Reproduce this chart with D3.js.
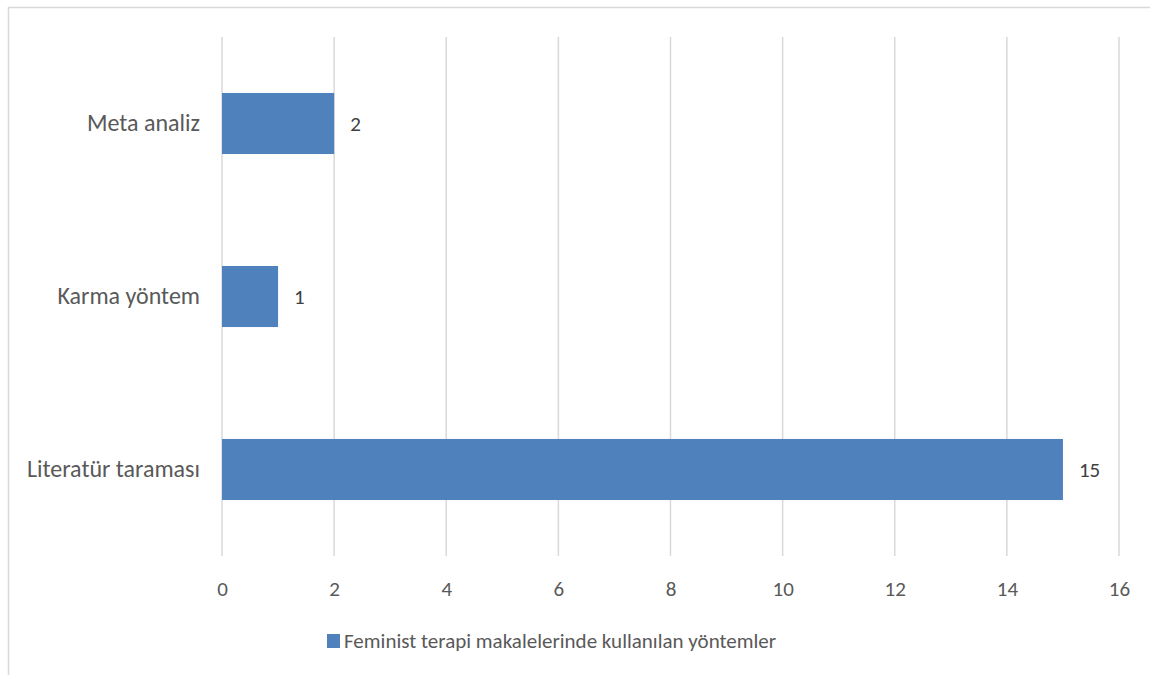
<!DOCTYPE html>
<html>
<head>
<meta charset="utf-8">
<script src="https://cdn.jsdelivr.net/npm/d3@7"></script>
<style>
  body { margin: 0; background: #fff; }
  svg { display: block; font-family: Calibri, Carlito, Lato, sans-serif; }
</style>
</head>
<body>
<svg id="chart"></svg>
<script>
var categories = ["Meta analiz", "Karma yöntem", "Literatür taraması"];
var values = [2, 1, 15];
var xTicks = [0, 2, 4, 6, 8, 10, 12, 14, 16];
var seriesName = "Feminist terapi makalelerinde kullanılan yöntemler";

var width = 1150;
var height = 675;
var margin = { top: 37, right: 31, bottom: 119, left: 222 };
var barColor = "#4f81bd";
var font = "Calibri, Carlito, Lato, sans-serif";

var svg = d3.select("#chart")
    .attr("width", width)
    .attr("height", height);

// outer chart frame
svg.append("rect")
    .attr("x", 8.5)
    .attr("y", 7.5)
    .attr("width", width + 20)
    .attr("height", height + 20)
    .attr("fill", "none")
    .attr("stroke", "#d9d9d9")
    .attr("stroke-width", 1.5);

var x = d3.scaleLinear()
    .domain([0, 16])
    .range([margin.left, width - margin.right]);

var y = d3.scaleBand()
    .domain(categories)
    .range([margin.top, height - margin.bottom])
    .paddingInner(0.647)
    .paddingOuter(0.3235);

// gridlines
svg.append("g")
    .selectAll("line")
    .data(xTicks)
    .enter()
    .append("line")
    .attr("x1", d => x(d))
    .attr("x2", d => x(d))
    .attr("y1", margin.top)
    .attr("y2", height - margin.bottom)
    .attr("stroke", "#d9d9d9")
    .attr("stroke-width", 1.5);

// x axis labels
var xAxis = svg.append("g")
    .attr("transform", `translate(0, ${height - margin.bottom})`)
    .call(d3.axisBottom(x).tickValues(xTicks).tickSize(0).tickPadding(25));
xAxis.select(".domain").remove();
xAxis.selectAll("text")
    .attr("fill", "#595959")
    .style("font-size", "21px")
    .style("font-family", font);

// y axis labels
var yAxis = svg.append("g")
    .attr("transform", `translate(${margin.left}, 0)`)
    .call(d3.axisLeft(y).tickSize(0).tickPadding(22));
yAxis.select(".domain").remove();
yAxis.selectAll("text")
    .attr("fill", "#595959")
    .style("font-size", "24px")
    .style("font-family", font);

// bars
svg.selectAll("rect.bar")
    .data(values)
    .enter()
    .append("rect")
    .attr("class", "bar")
    .attr("x", x(0))
    .attr("y", (d, i) => y(categories[i]))
    .attr("width", d => x(d) - x(0))
    .attr("height", y.bandwidth())
    .attr("fill", barColor);

// value labels
svg.selectAll("text.value")
    .data(values)
    .enter()
    .append("text")
    .attr("class", "value")
    .attr("x", d => x(d) + 16)
    .attr("y", (d, i) => y(categories[i]) + y.bandwidth() / 2)
    .attr("dy", "0.35em")
    .attr("fill", "#404040")
    .style("font-size", "21px")
    .text(d => d);

// legend
var legend = svg.append("g")
    .attr("transform", "translate(327, 641)");
legend.append("rect")
    .attr("x", 0)
    .attr("y", -7)
    .attr("width", 13)
    .attr("height", 14)
    .attr("fill", barColor);
legend.append("text")
    .attr("x", 17)
    .attr("dy", "0.35em")
    .attr("fill", "#595959")
    .style("font-size", "21px")
    .text(seriesName);
</script>
</body>
</html>
